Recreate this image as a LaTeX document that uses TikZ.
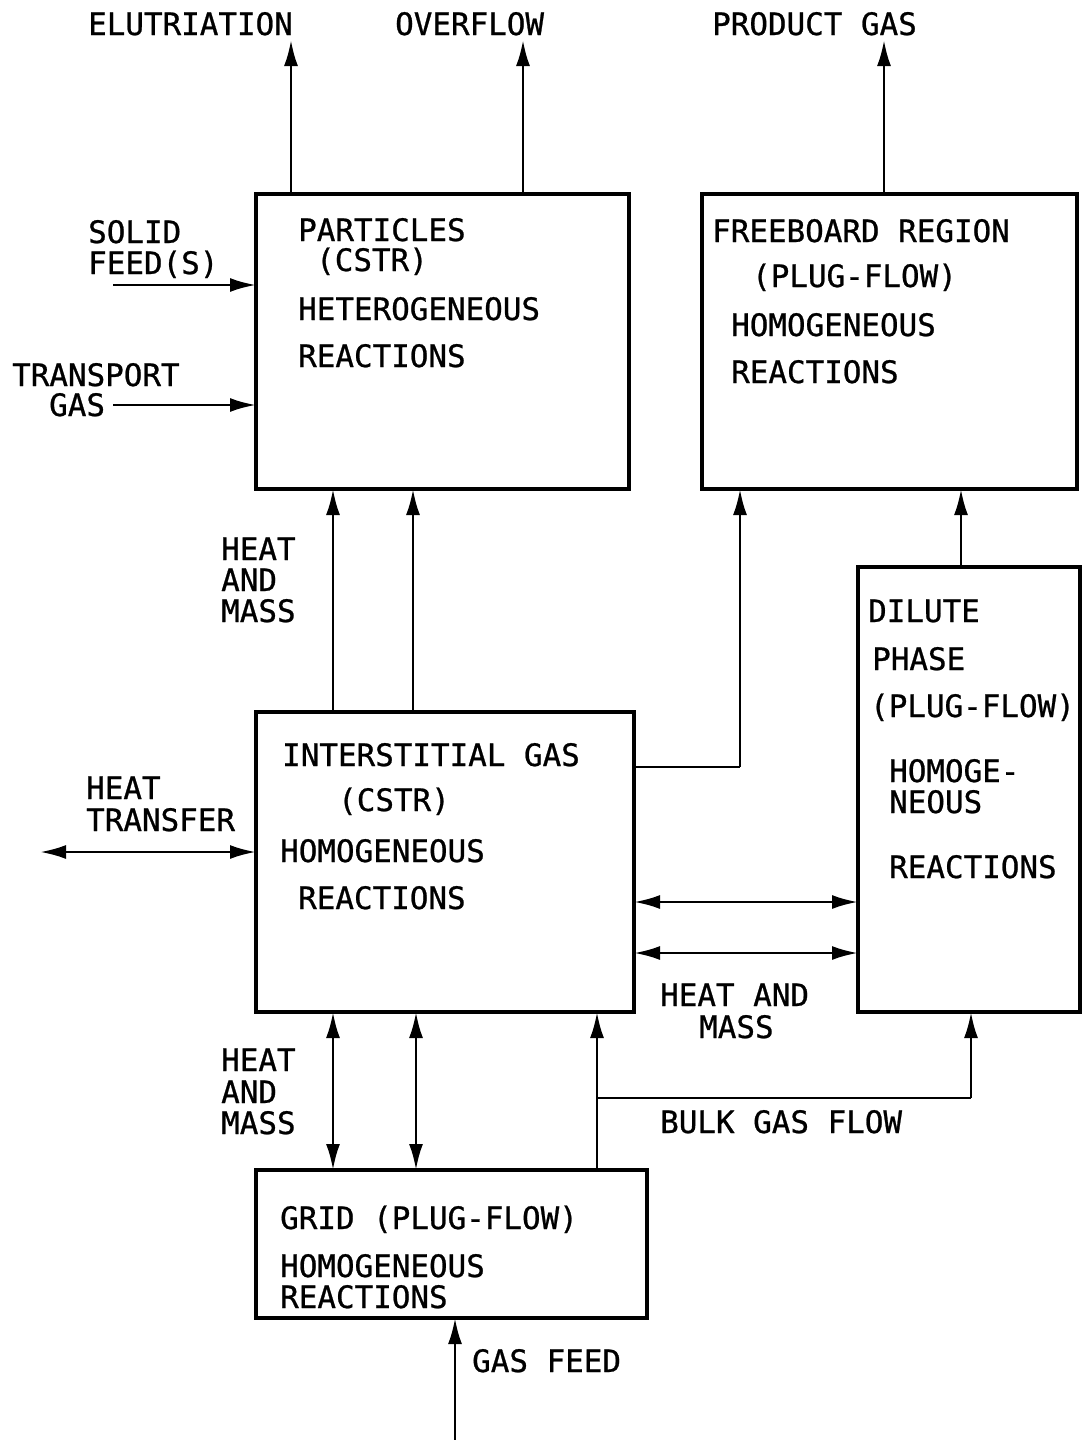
\documentclass[tikz,border=0pt]{standalone}
\usepackage{fontspec}
\newfontfamily\plotfont[FakeBold=0.8]{DejaVu Sans Mono}
\usetikzlibrary{arrows.meta,calc}
\begin{document}
\begin{tikzpicture}[x=1pt,y=-1pt,
  blk/.style={draw,line width=3.4pt,inner sep=0pt,outer sep=0pt,anchor=north west},
  lbl/.style={inner sep=0pt,anchor=base west,font=\plotfont\fontsize{30.9}{36}\selectfont},
  flow/.style={line width=2.8pt,-{Latex[length=26pt,width=14pt]}},
  dflow/.style={line width=2.8pt,{Latex[length=26pt,width=14pt]}-{Latex[length=26pt,width=14pt]}},
  pipe/.style={line width=2.8pt}]
\useasboundingbox (0,0) rectangle (1083,1440);
% boxes
\node[blk,minimum width=373pt,minimum height=295pt] (part) at (256,194) {};
\node[blk,minimum width=375pt,minimum height=295pt] (free) at (702,194) {};
\node[blk,minimum width=378pt,minimum height=300pt] (inter) at (256,712) {};
\node[blk,minimum width=222pt,minimum height=445pt] (dil) at (858,567) {};
\node[blk,minimum width=391pt,minimum height=148pt] (grid) at (256,1170) {};
% free ends
\coordinate (eluT) at (291,40);
\coordinate (ovT) at (523,40);
\coordinate (prT) at (884,40);
\coordinate (sfS) at (113,285);
\coordinate (tgS) at (113,405);
\coordinate (htL) at (40,852);
\coordinate (gfS) at (455,1440);
\coordinate (bend1) at (740,767);
\coordinate (bulk) at (597,1098);
% top outputs
\draw[flow] (part.north -| 291,0) -- (eluT);
\draw[flow] (part.north -| 523,0) -- (ovT);
\draw[flow] (free.north -| 884,0) -- (prT);
% feeds
\draw[flow] (sfS) -- (sfS -| part.west);
\draw[flow] (tgS) -- (tgS -| part.west);
% heat and mass up
\draw[flow] (inter.north -| 333,0) -- (part.south -| 333,0);
\draw[flow] (inter.north -| 413,0) -- (part.south -| 413,0);
% interstitial to freeboard
\draw[pipe] (inter.east |- bend1) -- (bend1);
\draw[flow] (bend1) -- (free.south -| bend1);
% dilute to freeboard
\draw[flow] (dil.north -| 961,0) -- (free.south -| 961,0);
% interstitial <-> dilute
\draw[dflow] (inter.east |- 0,902) -- (dil.west |- 0,902);
\draw[dflow] (inter.east |- 0,953) -- (dil.west |- 0,953);
% heat transfer
\draw[dflow] (htL) -- (htL -| inter.west);
% grid <-> interstitial
\draw[dflow] (inter.south -| 333,0) -- (grid.north -| 333,0);
\draw[dflow] (inter.south -| 416,0) -- (grid.north -| 416,0);
% bulk gas flow
\draw[flow] (grid.north -| bulk) -- (inter.south -| bulk);
\draw[pipe] (bulk) -- (bulk -| 971,0);
\draw[flow] (bulk -| 971,0) -- (dil.south -| 971,0);
% gas feed
\draw[flow] (gfS) -- (grid.south -| gfS);
% labels
\node[lbl] (t1) at (88,35) {ELUTRIATION};
\node[lbl] (t2) at (395,35) {OVERFLOW};
\node[lbl] (t3) at (712,35) {PRODUCT GAS};
\node[lbl] (t4) at (88,243) {SOLID};
\node[lbl] (t5) at (88,274) {FEED(S)};
\node[lbl] (t6) at (12,386) {TRANSPORT};
\node[lbl] (t7) at (49,416) {GAS};
\node[lbl] (p1) at (298,241) {PARTICLES};
\node[lbl] (p2) at (316,271) {(CSTR)};
\node[lbl] (p3) at (298,320) {HETEROGENEOUS};
\node[lbl] (p4) at (298,367) {REACTIONS};
\node[lbl] (f1) at (712,242) {FREEBOARD REGION};
\node[lbl] (f2) at (752,287) {(PLUG-FLOW)};
\node[lbl] (f3) at (731,336) {HOMOGENEOUS};
\node[lbl] (f4) at (731,383) {REACTIONS};
\node[lbl] (h1) at (221,560) {HEAT};
\node[lbl] (h2) at (221,591) {AND};
\node[lbl] (h3) at (221,622) {MASS};
\node[lbl] (i1) at (282,766) {INTERSTITIAL GAS};
\node[lbl] (i2) at (338,811) {(CSTR)};
\node[lbl] (i3) at (280,862) {HOMOGENEOUS};
\node[lbl] (i4) at (298,909) {REACTIONS};
\node[lbl] (ht1) at (86,799) {HEAT};
\node[lbl] (ht2) at (86,831) {TRANSFER};
\node[lbl] (d1) at (868,622) {DILUTE};
\node[lbl] (d2) at (872,670) {PHASE};
\node[lbl] (d3) at (870,717) {(PLUG-FLOW)};
\node[lbl] (d4) at (889,782) {HOMOGE-};
\node[lbl] (d5) at (889,813) {NEOUS};
\node[lbl] (d6) at (889,878) {REACTIONS};
\node[lbl] (m1) at (660,1006) {HEAT AND};
\node[lbl] (m2) at (699,1038) {MASS};
\node[lbl] (b1) at (221,1071) {HEAT};
\node[lbl] (b2) at (221,1103) {AND};
\node[lbl] (b3) at (221,1134) {MASS};
\node[lbl] (bg) at (660,1133) {BULK GAS FLOW};
\node[lbl] (g1) at (280,1229) {GRID (PLUG-FLOW)};
\node[lbl] (g2) at (280,1277) {HOMOGENEOUS};
\node[lbl] (g3) at (280,1308) {REACTIONS};
\node[lbl] (gf) at (472,1372) {GAS FEED};
\end{tikzpicture}
\end{document}
